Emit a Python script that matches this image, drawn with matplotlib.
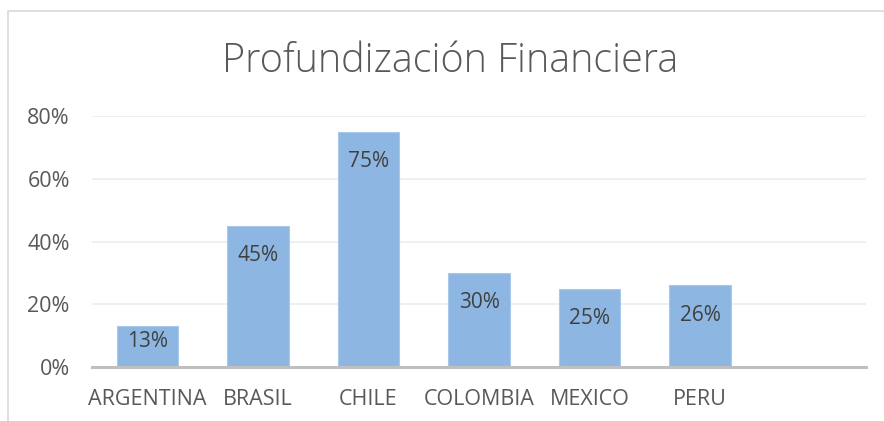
import matplotlib.pyplot as plt
from matplotlib.patches import Rectangle
from matplotlib.ticker import FuncFormatter

# chart data
countries = ['ARGENTINA', 'BRASIL', 'CHILE', 'COLOMBIA', 'MEXICO', 'PERU', '']
values = [0.13, 0.45, 0.75, 0.30, 0.25, 0.26]
labels = ['13%', '45%', '75%', '30%', '25%', '26%']
yticks = [0.0, 0.2, 0.4, 0.6, 0.8]

plt.rcParams['font.family'] = ['Open Sans', 'DejaVu Sans']
text_col = '#595959'

fig = plt.figure(figsize=(8.84, 4.21), dpi=100)
ax = fig.add_axes([92 / 884, 54 / 421, 774 / 884, 251 / 421])

# outer chart border (runs off the right and bottom edges)
fig.patches.append(Rectangle((8 / 884, -0.05), 1.0, 1 - 11 / 421 + 0.05,
                             transform=fig.transFigure, fill=False,
                             edgecolor='#d9d9d9', linewidth=1.2, zorder=0))

x = list(range(len(countries)))
bars = ax.bar(x[:len(values)], values, width=0.556, color='#8db7e2',
              edgecolor='#a9c9ea', linewidth=0.8, zorder=3)

for b, lab in zip(bars, labels):
    h = b.get_height()
    off = -21.5 if h > 0.2 else -11
    ax.annotate(lab, (b.get_x() + b.get_width() / 2, h),
                xytext=(0, off), textcoords='offset points',
                ha='center', va='center', fontsize=15, color='#404040')

ax.set_xlim(-0.5, len(countries) - 0.5)
ax.set_ylim(0, 0.8)
ax.set_yticks(yticks)
ax.yaxis.set_major_formatter(FuncFormatter(lambda v, p: f'{v * 100:.0f}%'))
ax.set_xticks(x)
ax.set_xticklabels(countries)

ax.grid(axis='y', color='#ececec', linewidth=1.2, zorder=0)
ax.set_axisbelow(True)
for s in ['top', 'right', 'left']:
    ax.spines[s].set_visible(False)
ax.spines['bottom'].set_color('#bfbfbf')
ax.spines['bottom'].set_linewidth(2.2)
ax.spines['bottom'].set_zorder(4)

ax.tick_params(axis='y', length=0, pad=16, labelsize=15.5, labelcolor=text_col)
ax.tick_params(axis='x', length=0, pad=16, labelsize=15.5, labelcolor=text_col)

fig.text(450 / 884, 1 - 72 / 421, 'Profundización Financiera', ha='center',
         va='baseline', fontsize=28.5, color=text_col, fontweight='light')

fig.savefig('out.png', dpi=100)
